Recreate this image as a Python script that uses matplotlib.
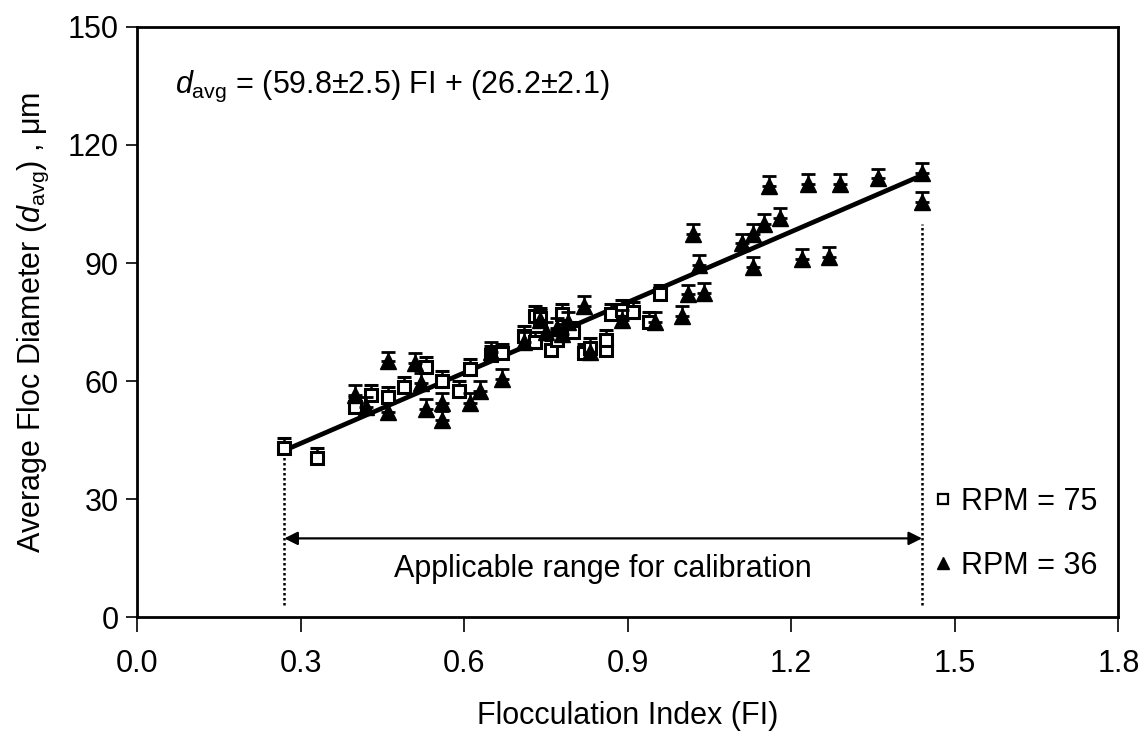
import matplotlib
matplotlib.use("Agg")
import matplotlib.pyplot as plt
from matplotlib.lines import Line2D
import numpy as np

plt.rcParams['font.family'] = ['Liberation Sans', 'DejaVu Sans']
plt.rcParams['mathtext.fontset'] = 'custom'
plt.rcParams['mathtext.rm'] = 'Liberation Sans'
plt.rcParams['mathtext.it'] = 'Liberation Sans:italic'

# RPM = 75 (open squares)
fi_75 = [0.27, 0.33, 0.40, 0.43, 0.46, 0.49, 0.53, 0.56, 0.59, 0.61, 0.65, 0.67,
         0.71, 0.73, 0.73, 0.74, 0.76, 0.77, 0.78, 0.80, 0.82, 0.83, 0.86, 0.86,
         0.87, 0.89, 0.91, 0.94, 0.96]
d_75 = [43.0, 40.5, 53.5, 56.5, 56.0, 58.5, 63.5, 60.0, 57.5, 63.0, 66.5, 67.0,
        71.5, 70.0, 76.5, 76.0, 68.0, 70.5, 77.0, 72.5, 67.0, 68.5, 68.0, 70.5,
        77.0, 78.0, 77.5, 75.0, 82.0]
err_75 = [2.5, 2.5, 2.5, 2.5, 2.5, 2.5, 2.5, 2.5, 2.5, 2.5, 2.5, 2.5,
          2.5, 2.5, 2.5, 2.5, 2.5, 2.5, 2.5, 2.5, 2.5, 2.5, 2.5, 2.5,
          2.5, 2.5, 2.5, 2.5, 2.5]

# RPM = 36 (filled triangles)
fi_36 = [0.40, 0.42, 0.46, 0.46, 0.51, 0.52, 0.53, 0.56, 0.56, 0.61, 0.63, 0.65,
         0.67, 0.71, 0.74, 0.75, 0.77, 0.78, 0.79, 0.82, 0.83, 0.89, 0.95, 1.00,
         1.01, 1.02, 1.03, 1.04, 1.11, 1.13, 1.13, 1.15, 1.16, 1.18, 1.22, 1.23,
         1.27, 1.29, 1.36, 1.44, 1.44]
d_36 = [56.5, 53.5, 52.0, 65.0, 64.5, 59.5, 53.0, 54.5, 50.0, 54.5, 57.5, 67.5,
        60.5, 70.0, 75.5, 72.5, 73.5, 72.0, 75.0, 79.0, 67.5, 75.5, 75.0, 76.5,
        82.0, 97.5, 89.5, 82.5, 95.0, 89.0, 97.5, 100.0, 109.5, 101.5, 91.0, 110.0,
        91.5, 110.0, 111.5, 113.0, 105.5]
err_36 = [2.5, 2.5, 2.5, 2.5, 2.5, 2.5, 2.5, 2.5, 2.5, 2.5, 2.5, 2.5,
          2.5, 2.5, 2.5, 2.5, 2.5, 2.5, 2.5, 2.5, 2.5, 2.5, 2.5, 2.5,
          2.5, 2.5, 2.5, 2.5, 2.5, 2.5, 2.5, 2.5, 2.5, 2.5, 2.5, 2.5,
          2.5, 2.5, 2.5, 2.5, 2.5]

slope = 59.8
intercept = 26.2
fi_range = [0.27, 1.44]

x_ticks = [0.0, 0.3, 0.6, 0.9, 1.2, 1.5, 1.8]
y_ticks = [0, 30, 60, 90, 120, 150]

fig = plt.figure(figsize=(11.45, 7.39), dpi=100)
ax = fig.add_axes([0.1197, 0.165, 0.857, 0.7985])

# fit line
fx = np.array(fi_range)
ax.plot(fx, slope * fx + intercept, color='black', lw=3.4, zorder=2)

# data with upper error bars
ax.errorbar(fi_75, d_75, yerr=[np.zeros(len(err_75)), err_75], fmt='s',
            mfc='white', mec='black', mew=2.2, ms=9, ecolor='black',
            elinewidth=1.8, capsize=5, capthick=2.0, zorder=3)
ax.errorbar(fi_36, d_36, yerr=[np.zeros(len(err_36)), err_36], fmt='^',
            mfc='black', mec='black', ms=11, ecolor='black',
            elinewidth=1.8, capsize=5, capthick=2.0, zorder=4)

# applicable range annotations
ax.plot([fi_range[0], fi_range[0]], [3, 42], ls=(0, (1, 1)), color='black', lw=1.8, zorder=1)
ax.plot([fi_range[1], fi_range[1]], [3, 100], ls=(0, (1, 1)), color='black', lw=1.8, zorder=1)
ax.annotate('', xy=(fi_range[0], 20), xytext=(fi_range[1], 20),
            arrowprops=dict(arrowstyle='<|-|>', color='black', lw=1.6,
                            mutation_scale=20, shrinkA=0, shrinkB=0))
ax.text(sum(fi_range) / 2, 12.3, 'Applicable range for calibration',
        ha='center', va='center', fontsize=22)

ax.text(0.07, 135, r'$\mathit{d}_{\mathrm{avg}}$ = (59.8$\pm$2.5) FI + (26.2$\pm$2.1)',
        fontsize=22, ha='left', va='center')

handles = [Line2D([], [], ls='none', marker='s', mfc='white', mec='black', mew=1.6, ms=7),
           Line2D([], [], ls='none', marker='^', mfc='black', mec='black', ms=9)]
ax.legend(handles, ['RPM = 75', 'RPM = 36'], loc='center left',
          bbox_to_anchor=(0.798, 0.141), frameon=False, fontsize=22,
          handlelength=0.5, handletextpad=0.35, labelspacing=1.1, borderpad=0)

ax.set_xlim(0, 1.8)
ax.set_ylim(0, 150)
ax.set_xticks(x_ticks)
ax.set_xticklabels([f'{t:.1f}' for t in x_ticks])
ax.set_yticks(y_ticks)
ax.tick_params(axis='both', labelsize=22, direction='out', width=1.2)
ax.tick_params(axis='x', pad=12, length=11)
ax.tick_params(axis='y', pad=5, length=8)
for s in ax.spines.values():
    s.set_linewidth(2.0)

ax.set_xlabel('Flocculation Index (FI)', fontsize=22, labelpad=16)
ax.set_ylabel(r'Average Floc Diameter ($\mathit{d}_{\mathrm{avg}}$) , $\mathrm{\mu}$m',
              fontsize=22, labelpad=12)

fig.savefig('out.png', dpi=100)
